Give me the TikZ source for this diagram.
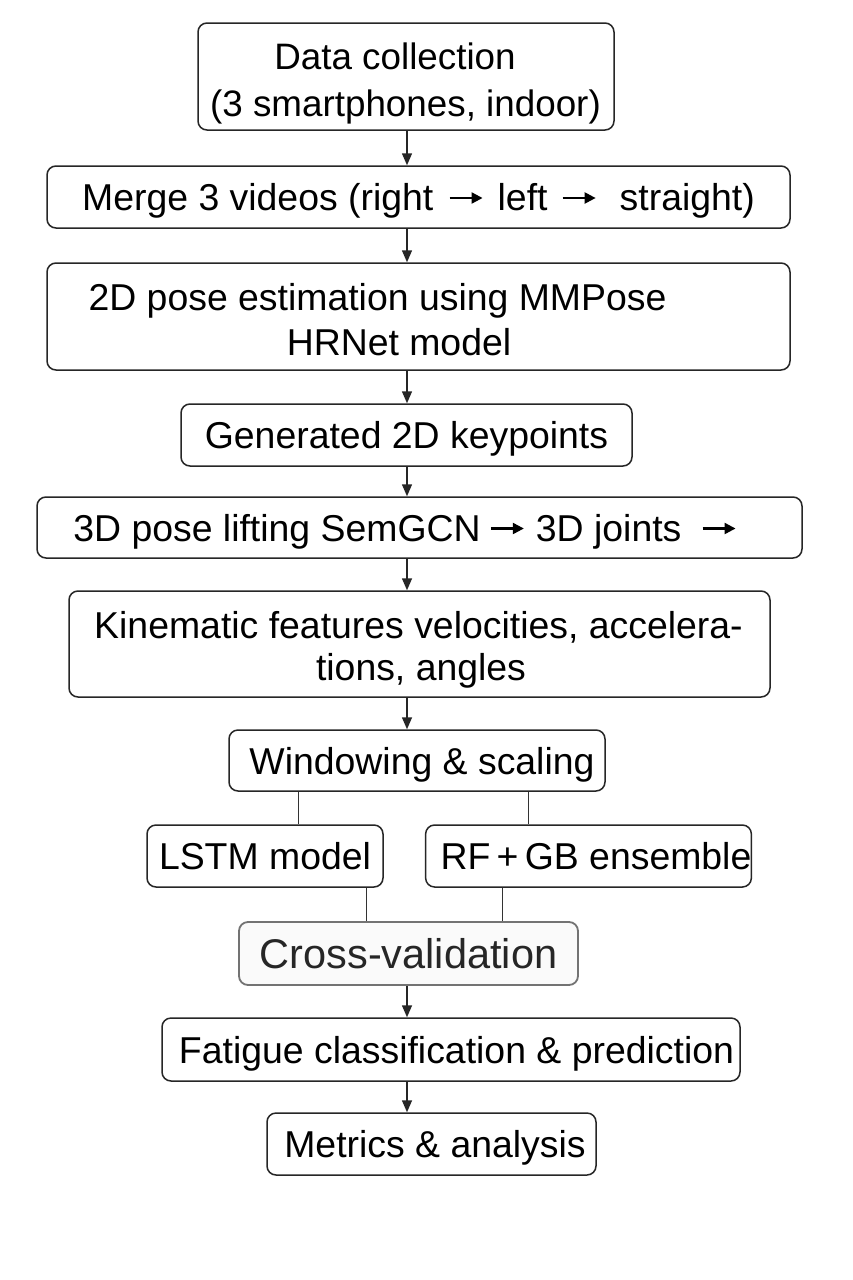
\documentclass[tikz,border=0pt]{standalone}
\usepackage{fontspec}
\setmainfont{Liberation Sans}
\usetikzlibrary{arrows.meta,calc}
\newcommand{\myarr}{\tikz[baseline={(0pt,-12.5pt)}]\draw[line width=2.2pt,-{Triangle[width=11pt,length=11pt]}] (0pt,0pt) -- (33pt,0pt);}
\begin{document}
\begin{tikzpicture}[x=1pt,y=-1pt,
  box/.style={draw=black!85, line width=1.5pt, rounded corners=9pt, fill=white, inner sep=0pt,
    font=\fontsize{37.4}{45}\selectfont, text height=30pt, text depth=3pt},
  txt/.style={inner sep=0pt, font=\fontsize{37.4}{45}\selectfont, text height=30pt, text depth=3pt},
  arr/.style={draw=black!85, line width=1.5pt, -{Triangle[width=10pt,length=12pt]}},
  ln/.style={draw=black!80, line width=1pt},
  graybox/.style={box, draw=black!55, line width=1.8pt, fill=black!2, text=black!85,
    font=\fontsize{41.5}{48}\selectfont, text height=32pt}]
\useasboundingbox (0,0) rectangle (852,1280);
\fill[white] (0,0) rectangle (852,1280);
\coordinate (ax) at (407,0);
\coordinate (lx1) at (298,0);
\coordinate (lx2) at (528,0);
\coordinate (lx3) at (366,0);
\coordinate (lx4) at (502,0);

\node[box, minimum width=416pt, minimum height=107pt] (data) at (406,76.5) {};
\node[txt, font=\fontsize{36.8}{45}\selectfont] (dataA) at (395,56) {Data collection};
\node[txt, font=\fontsize{36.8}{45}\selectfont] (dataB) at (405.5,103) {(3 smartphones, indoor)};
\node[box, minimum width=743pt, minimum height=62pt] (merge) at (418.5,197)
  {Merge 3 videos (right\hspace{15pt}\myarr\hspace{14pt}left\hspace{14pt}\myarr\hspace{23pt}straight)};
\node[box, minimum width=743pt, minimum height=107pt] (pose) at (418.5,316.5) {};
\node[txt] (poseA) at (377.5,297) {2D pose estimation using MMPose};
\node[txt] (poseB) at (399,342) {HRNet model};
\node[box, minimum width=451pt, minimum height=62pt] (gen) at (406.5,435)
  {Generated 2D keypoints};
\node[box, minimum width=765pt, minimum height=61pt] (lift) at (419.5,527.5)
  {3D pose lifting SemGCN\hspace{9pt}\myarr\hspace{11pt}3D joints\hspace{20pt}\myarr\kern29pt};
\node[box, minimum width=701pt, minimum height=106pt] (kin) at (419.5,644) {};
\node[txt] (kinA) at (418.5,625) {Kinematic features velocities, accelera-};
\node[txt] (kinB) at (421,667) {tions, angles};
\node[box, minimum width=376pt, minimum height=61pt] (win) at (417,760.5)
  {\kern10pt Windowing \& scaling};
\node[box, minimum width=236pt, minimum height=62pt] (lstm) at (265,856)
  {LSTM model};
\node[box, minimum width=311pt, minimum height=62pt] (rf) at (588.5,856)
  {\kern15pt RF\,+\,GB ensemble};
\node[graybox, minimum width=339pt, minimum height=63pt] (cv) at (408.5,953.5)
  {Cross-validation};
\node[box, minimum width=578pt, minimum height=63pt] (fat) at (451,1049.5)
  {\kern11pt Fatigue classification \& prediction};
\node[box, minimum width=329pt, minimum height=62pt] (met) at (431.5,1144)
  {\kern7pt Metrics \& analysis};

\draw[arr] (data.south -| ax) -- (merge.north -| ax);
\draw[arr] (merge.south -| ax) -- (pose.north -| ax);
\draw[arr] (pose.south -| ax) -- (gen.north -| ax);
\draw[arr] (gen.south -| ax) -- (lift.north -| ax);
\draw[arr] (lift.south -| ax) -- (kin.north -| ax);
\draw[arr] (kin.south -| ax) -- (win.north -| ax);
\draw[ln] (win.south -| lx1) -- (lstm.north -| lx1);
\draw[ln] (win.south -| lx2) -- (rf.north -| lx2);
\draw[ln] (lstm.south -| lx3) -- (cv.north -| lx3);
\draw[ln] (rf.south -| lx4) -- (cv.north -| lx4);
\draw[arr] (cv.south -| ax) -- (fat.north -| ax);
\draw[arr] (fat.south -| ax) -- (met.north -| ax);
\end{tikzpicture}
\end{document}
